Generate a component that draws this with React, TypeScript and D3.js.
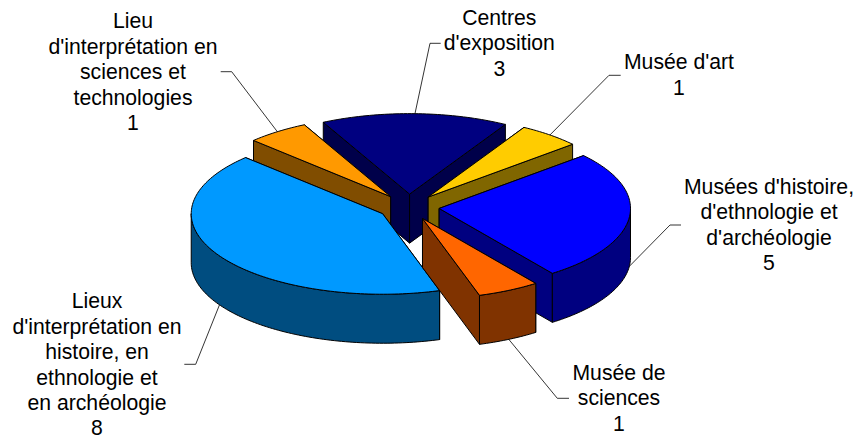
import * as d3 from "d3";

const categories = [
  "Centres d'exposition",
  "Musée d'art",
  "Musées d'histoire, d'ethnologie et d'archéologie",
  "Musée de sciences",
  "Lieux d'interprétation en histoire, en ethnologie et en archéologie",
  "Lieu d'interprétation en sciences et technologies",
];
const values = [3, 1, 5, 1, 8, 1];
const topColors = ["#000080", "#FFCC00", "#0000FF", "#FF6600", "#0099FF", "#FF9900"];
const wallColors = ["#00004A", "#806600", "#000080", "#803300", "#004D80", "#804D00"];
// wrapped label text as the chart shows it
const labelLines = [
  ["Centres", "d'exposition", "3"],
  ["Musée d'art", "1"],
  ["Musées d'histoire,", "d'ethnologie et", "d'archéologie", "5"],
  ["Musée de", "sciences", "1"],
  ["Lieux", "d'interprétation en", "histoire, en", "ethnologie et", "en archéologie", "8"],
  ["Lieu", "d'interprétation en", "sciences et", "technologies", "1"],
];
const labelX = [499.3, 679, 769, 619, 97, 133];
const labelY = [25, 69.3, 194, 380, 308.3, 28.3];
const elbows = [[430, 43.3], [609, 75.3], [670, 225], [557.3, 398.3], [195.7, 364.3], [231.7, 71.7]];
const elbowEnds = [[440.7, 43.3], [620.7, 75.3], [681, 225], [569, 398.3], [184.3, 364.3], [220.7, 71.7]];
// back to front
const drawOrder = [0, 5, 1, 2, 4, 3];

const width = 855;
const height = 438;
const cx = 408.7;
const cy = 207;
const rx = 191.4;
const tilt = 0.4206;
const explode = 30.6;
const depth = 49;
const startDeg = -26.8;

const pie = d3.pie<number>().sort(null)
  .startAngle((startDeg * Math.PI) / 180)
  .endAngle(((startDeg + 360) * Math.PI) / 180);
const slices = pie(values);

const project = (a: number, r: number): [number, number] => [
  r * Math.sin(a),
  -r * Math.cos(a) * tilt,
];
const line = d3.line();

function rim(a0: number, a1: number, ox: number, oy: number) {
  const n = Math.max(2, Math.ceil((a1 - a0) / 0.02));
  return d3.range(n + 1).map((i) => {
    const a = a0 + ((a1 - a0) * i) / n;
    const [x, y] = project(a, rx);
    return [ox + x, oy + y] as [number, number];
  });
}

export default function App() {
  const faces = drawOrder.map((idx) => {
    const s = slices[idx];
    const mid = (s.startAngle + s.endAngle) / 2;
    const [ex, ey] = project(mid, explode);
    const ox = cx + ex;
    const oy = cy + ey;
    const arc = rim(s.startAngle, s.endAngle, ox, oy);
    const top = line([[ox, oy], ...arc]) + "Z";
    const cut = (p: [number, number]) =>
      line([[ox, oy], p, [p[0], p[1] + depth], [ox, oy + depth]]) + "Z";
    // far cut face first, so the near one covers it
    const ends = [arc[0], arc[arc.length - 1]].sort((a, b) => a[1] - b[1]);
    const cuts = ends.map(cut);
    // only the front half of the outer wall can be seen
    const lo = Math.max(s.startAngle, Math.PI / 2);
    const hi = Math.min(s.endAngle, (3 * Math.PI) / 2);
    let wall: string | null = null;
    if (hi > lo) {
      const r = rim(lo, hi, ox, oy);
      const below = r.map(([x, y]) => [x, y + depth] as [number, number]).reverse();
      wall = line([...r, ...below]) + "Z";
    }
    return { idx, top, cuts, wall };
  });

  return (
    <svg
      width={width}
      height={height}
      viewBox={`0 0 ${width} ${height}`}
      style={{ position: "absolute", left: 0, top: 0, background: "#fff" }}
      aria-label={categories.join(", ")}
    >
      {slices.map((s, i) => {
        const mid = (s.startAngle + s.endAngle) / 2;
        const [ex, ey] = project(mid, explode);
        const [ax, ay] = project(mid, rx);
        const front = Math.cos(mid) < 0 ? depth : 0;
        const pts: [number, number][] = [
          elbowEnds[i] as [number, number],
          elbows[i] as [number, number],
          [cx + ex + ax, cy + ey + ay + front],
        ];
        return <path key={i} d={line(pts) ?? ""} fill="none" stroke="#000" strokeWidth={0.8} />;
      })}
      {faces.map((f) => (
        <g key={f.idx} stroke="#000" strokeWidth={1} strokeLinejoin="round">
          {f.cuts.map((d, j) => (
            <path key={j} d={d} fill={wallColors[f.idx]} />
          ))}
          {f.wall && <path d={f.wall} fill={wallColors[f.idx]} />}
          <path d={f.top} fill={topColors[f.idx]} />
        </g>
      ))}
      {labelLines.map((lines, i) => (
        <text
          key={i}
          x={labelX[i]}
          y={labelY[i]}
          textAnchor="middle"
          fontFamily="'Liberation Sans', Arial, sans-serif"
          fontSize={21.2}
          fill="#000"
        >
          {lines.map((t, j) => (
            <tspan key={j} x={labelX[i]} y={labelY[i] + j * 25.4}>
              {t}
            </tspan>
          ))}
        </text>
      ))}
    </svg>
  );
}
